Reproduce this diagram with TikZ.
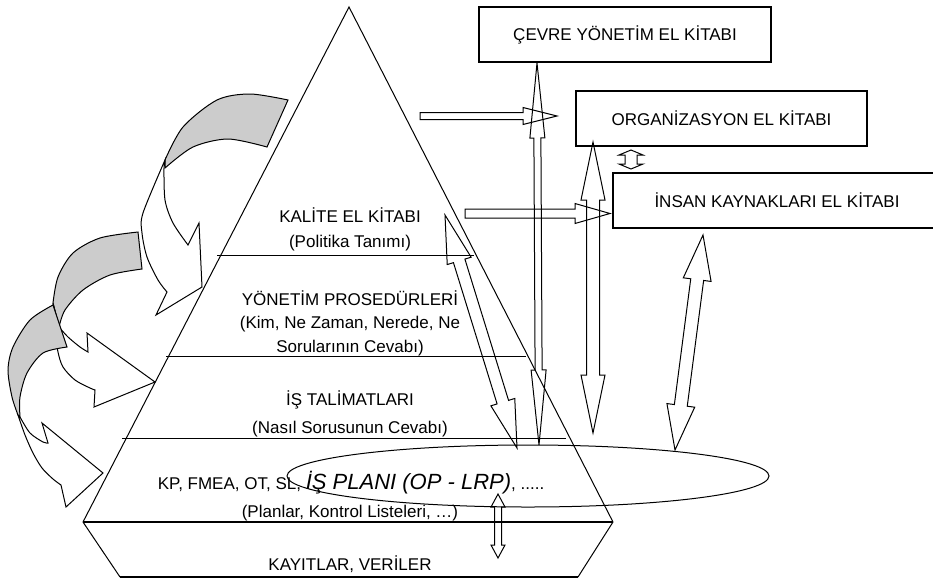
\documentclass[tikz,border=0pt]{standalone}
\usepackage{fontspec}
\setmainfont{Liberation Sans}
\usetikzlibrary{calc, shapes.geometric}
\usetikzlibrary{positioning}

\tikzset{
	kutu/.style={draw, line width=2pt, minimum height=55pt, inner sep=0pt, font=\fontsize{17}{20}\selectfont},
	yazi/.style={anchor=base, font=\fontsize{17}{20}\selectfont},
	blok/.style={draw, line width=1pt, line join=miter},
	gri/.style={draw, line width=1pt, fill=black!20},
}

% cift uclu blok ok: uc, uc, govde yari genislik, bas yari genislik, bas boyu
\newcommand{\ciftok}[5]{%
	\coordinate (okA) at ($(#1)!#5!(#2)$);
	\coordinate (okB) at ($(#2)!#5!(#1)$);
	\draw[blok] (#1) -- ($(okA)!#4!90:(#2)$) -- ($(okA)!#3!90:(#2)$) -- ($(okB)!#3!-90:(#1)$) -- ($(okB)!#4!-90:(#1)$) -- (#2) -- ($(okB)!#4!90:(#1)$) -- ($(okB)!#3!90:(#1)$) -- ($(okA)!#3!-90:(#2)$) -- ($(okA)!#4!-90:(#2)$) -- cycle;
}
% tek uclu blok ok: kuyruk, uc, govde yari genislik, bas yari genislik, bas boyu
\newcommand{\tekok}[5]{%
	\coordinate (okB) at ($(#2)!#5!(#1)$);
	\draw[blok] ($(#1)!#3!90:(#2)$) -- ($(okB)!#3!-90:(#1)$) -- ($(okB)!#4!-90:(#1)$) -- (#2) -- ($(okB)!#4!90:(#1)$) -- ($(okB)!#3!90:(#1)$) -- ($(#1)!#3!-90:(#2)$) -- cycle;
}

\begin{document}
\begin{tikzpicture}[x=1pt, y=-1pt, line width=1pt]
	\clip (0,0) rectangle (933,579);

	% piramit
	\coordinate (tepe) at (349,7);
	\coordinate (solalt) at (83,522);
	\coordinate (sagalt) at (613,522);
	\coordinate (tabansol) at (120,577);
	\coordinate (tabansag) at (578,577);
	\draw (solalt) -- (tepe) -- (sagalt);
	\draw (solalt) -- (tabansol);
	\draw (sagalt) -- (tabansag);
	\draw[line width=2.5pt] (solalt) -- (sagalt);
	\draw[line width=2.5pt] (tabansol) -- (tabansag);
	\draw (217,255) -- (474,255);
	\draw (166,356) -- (526,356);
	\draw (122,438) -- (566,438);

	% katmanlar
	\node[yazi] (kalite) at (350,222) {KALİTE EL KİTABI};
	\node[yazi] (politika) at (350,247) {(Politika Tanımı)};
	\node[yazi] (yonetim) at (350,305) {YÖNETİM PROSEDÜRLERİ};
	\node[yazi] (kim) at (350,328) {(Kim, Ne Zaman, Nerede, Ne};
	\node[yazi] (soru) at (350,352) {Sorularının Cevabı)};
	\node[yazi] (talimat) at (350,405) {İŞ TALİMATLARI};
	\node[yazi] (nasil) at (350,433) {(Nasıl Sorusunun Cevabı)};
	\node[yazi] (kp) at (351,489) {KP, FMEA, OT, SL, {\fontsize{22}{26}\selectfont\itshape İŞ PLANI (OP - LRP)}, .....};
	\node[yazi] (planlar) at (350,517) {(Planlar, Kontrol Listeleri, …)};
	\node[yazi] (kayit) at (350,570) {KAYITLAR, VERİLER};

	% el kitaplari
	\node[kutu, minimum width=292pt] (cevre) at (625,34.5) {ÇEVRE YÖNETİM EL KİTABI};
	\node[kutu, minimum width=291pt] (org) at (721.5,118) {ORGANİZASYON EL KİTABI};
	\node[kutu, minimum width=328pt] (insan) at (777,200.5) {İNSAN KAYNAKLARI EL KİTABI};

	\node[draw, ellipse, minimum width=482pt, minimum height=62pt, inner sep=0pt] (isplani) at (528,476) {};

	% egri oklar
	\filldraw[gri] plot[smooth] coordinates {(53,303) (58,277) (73,253) (100,238) (138,232)} -- plot[smooth] coordinates {(142,269) (110,275) (83,290) (65,310) (59,327)} -- cycle;
	\filldraw[blok, fill=white] plot[smooth] coordinates {(53,303) (55,330) (58,352) (63,367) (75,380) (90,388) (95,390)} -- (94,407) -- (155,382) -- (87,333) -- plot[smooth] coordinates {(88,352) (80,347) (68,337) (59,327)} -- cycle;
	\filldraw[gri] plot[smooth] coordinates {(18,415) (12,397) (8,370) (13,347) (30,320) (53,305)} -- plot[smooth] coordinates {(67,347) (43,353) (27,373) (20,397) (20,417)} -- cycle;
	\filldraw[blok, fill=white] plot[smooth] coordinates {(18,415) (25,435) (33,453) (42,468) (53,479) (61,485)} -- (66,507) -- (103,473) -- (42,423) -- plot[smooth] coordinates {(48,443) (43,442) (30,433) (20,417)} -- cycle;
	\filldraw[gri] plot[smooth] coordinates {(165,160) (183,127) (217,100) (250,94) (288,100)} -- plot[smooth] coordinates {(267,147) (228,139) (193,147) (165,168)} -- cycle;
	\filldraw[blok, fill=white] plot[smooth] coordinates {(165,160) (143,213) (142,233) (147,257) (158,280) (167,292)} -- (156,315) -- (202,287) -- (199,223) -- plot[smooth] coordinates {(188,245) (173,223) (165,200) (164,168)} -- cycle;

	% blok oklar
	\coordinate (ok1a) at (537,63);
	\coordinate (ok1b) at (539,445);
	\coordinate (ok2a) at (420,116);
	\coordinate (ok2b) at (557,116);
	\coordinate (ok3a) at (465,213.5);
	\coordinate (ok3b) at (610,213.5);
	\coordinate (ok4a) at (593,142);
	\coordinate (ok4b) at (593,433);
	\coordinate (ok5a) at (631,150);
	\coordinate (ok5b) at (631,169);
	\coordinate (ok6a) at (703,235);
	\coordinate (ok6b) at (675,450);
	\coordinate (ok7a) at (445,215);
	\coordinate (ok7b) at (517,448);
	\coordinate (ok8a) at (498,494);
	\coordinate (ok8b) at (498,558);
	\ciftok{ok1a}{ok1b}{3.5pt}{7.5pt}{75pt}
	\tekok{ok2a}{ok2b}{3.5pt}{8.5pt}{34pt}
	\tekok{ok3a}{ok3b}{4.5pt}{10pt}{35pt}
	\ciftok{ok4a}{ok4b}{6.5pt}{12pt}{58pt}
	\ciftok{ok5a}{ok5b}{6pt}{12pt}{5pt}
	\ciftok{ok6a}{ok6b}{6.5pt}{14pt}{45pt}
	\ciftok{ok7a}{ok7b}{6pt}{12.5pt}{48pt}
	\ciftok{ok8a}{ok8b}{3.5pt}{7pt}{13pt}
\end{tikzpicture}
\end{document}
